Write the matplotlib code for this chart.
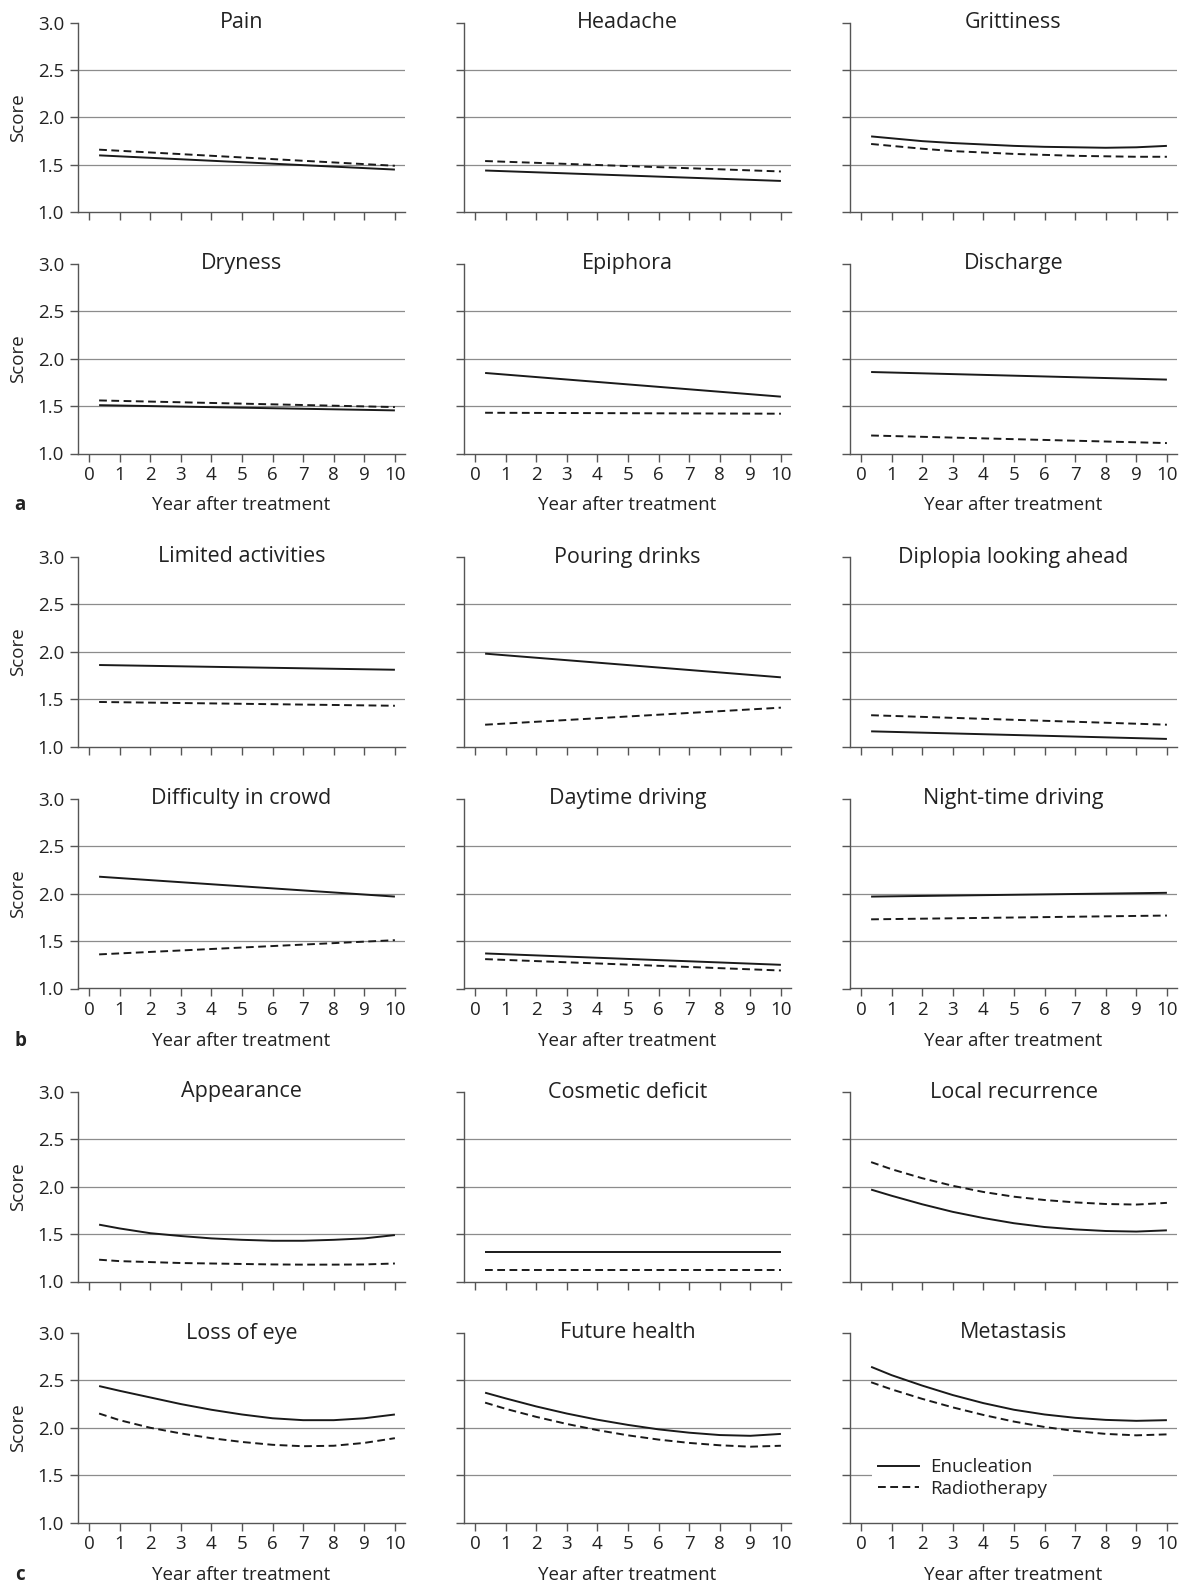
import matplotlib
matplotlib.use("Agg")
import matplotlib.pyplot as plt
from matplotlib.lines import Line2D

plt.rcParams['font.family'] = ['Open Sans', 'DejaVu Sans']

# ---------------- data ----------------
YEARS_LINE = [0.33, 10.0]
YEARS_CURVE = [0.33, 1, 2, 3, 4, 5, 6, 7, 8, 9, 10]
X_TICKS = list(range(0, 11))
Y_TICKS = [1.0, 1.5, 2.0, 2.5, 3.0]

TITLES = ["Pain", "Headache", "Grittiness",
          "Dryness", "Epiphora", "Discharge",
          "Limited activities", "Pouring drinks", "Diplopia looking ahead",
          "Difficulty in crowd", "Daytime driving", "Night-time driving",
          "Appearance", "Cosmetic deficit", "Local recurrence",
          "Loss of eye", "Future health", "Metastasis"]

pain_enu = [1.60, 1.45]
pain_rad = [1.66, 1.49]
headache_enu = [1.44, 1.33]
headache_rad = [1.54, 1.43]
grit_enu = [1.80, 1.78, 1.75, 1.73, 1.715, 1.70, 1.69, 1.685, 1.68, 1.685, 1.70]
grit_rad = [1.72, 1.70, 1.67, 1.645, 1.63, 1.615, 1.605, 1.595, 1.59, 1.585, 1.585]

dry_enu = [1.51, 1.455]
dry_rad = [1.56, 1.49]
epi_enu = [1.85, 1.60]
epi_rad = [1.43, 1.42]
dis_enu = [1.86, 1.78]
dis_rad = [1.19, 1.11]

lim_enu = [1.86, 1.81]
lim_rad = [1.47, 1.43]
pour_enu = [1.98, 1.73]
pour_rad = [1.23, 1.41]
dip_enu = [1.16, 1.08]
dip_rad = [1.33, 1.23]

crowd_enu = [2.18, 1.97]
crowd_rad = [1.36, 1.51]
day_enu = [1.37, 1.25]
day_rad = [1.31, 1.19]
night_enu = [1.97, 2.01]
night_rad = [1.73, 1.77]

app_enu = [1.60, 1.56, 1.51, 1.48, 1.455, 1.44, 1.43, 1.43, 1.44, 1.455, 1.49]
app_rad = [1.23, 1.215, 1.205, 1.195, 1.19, 1.185, 1.18, 1.178, 1.178, 1.18, 1.19]
cos_enu = [1.31, 1.31]
cos_rad = [1.12, 1.12]
loc_enu = [1.97, 1.905, 1.815, 1.735, 1.67, 1.615, 1.575, 1.55, 1.533, 1.527, 1.54]
loc_rad = [2.26, 2.185, 2.09, 2.01, 1.945, 1.895, 1.86, 1.835, 1.818, 1.812, 1.83]

loss_enu = [2.44, 2.39, 2.32, 2.25, 2.19, 2.14, 2.10, 2.08, 2.08, 2.10, 2.14]
loss_rad = [2.15, 2.08, 2.00, 1.94, 1.89, 1.85, 1.82, 1.805, 1.81, 1.84, 1.89]
fut_enu = [2.37, 2.31, 2.225, 2.15, 2.085, 2.03, 1.983, 1.948, 1.923, 1.915, 1.935]
fut_rad = [2.265, 2.20, 2.115, 2.04, 1.975, 1.92, 1.875, 1.84, 1.815, 1.80, 1.81]
met_enu = [2.643, 2.555, 2.445, 2.345, 2.26, 2.19, 2.14, 2.105, 2.083, 2.073, 2.08]
met_rad = [2.48, 2.405, 2.305, 2.215, 2.135, 2.065, 2.008, 1.965, 1.935, 1.92, 1.93]

ENUCLEATION = [pain_enu, headache_enu, grit_enu, dry_enu, epi_enu, dis_enu,
               lim_enu, pour_enu, dip_enu, crowd_enu, day_enu, night_enu,
               app_enu, cos_enu, loc_enu, loss_enu, fut_enu, met_enu]
RADIOTHERAPY = [pain_rad, headache_rad, grit_rad, dry_rad, epi_rad, dis_rad,
                lim_rad, pour_rad, dip_rad, crowd_rad, day_rad, night_rad,
                app_rad, cos_rad, loc_rad, loss_rad, fut_rad, met_rad]

SERIES_LABELS = ["Enucleation", "Radiotherapy"]
PANEL_LETTERS = ["a", "b", "c"]

# ---------------- layout / style ----------------
W, H = 1187, 1587
fig = plt.figure(figsize=(W / 100, H / 100), dpi=100)

COL_LEFT = [78, 464, 850]
ROW_TOP = [22.7, 264, 557, 799, 1092, 1333]
AW, AH = 327, 189.5

TXT = '#222222'
AXC = '#555555'
GRID = '#8c8c8c'
LINEC = '#1a1a1a'
FS = 13.5
FS_TITLE = 15.5
DASH = (0, (4, 2.3))

for i, title in enumerate(TITLES):
    r, c = divmod(i, 3)
    L, T = COL_LEFT[c], ROW_TOP[r]
    ax = fig.add_axes([L / W, 1 - (T + AH) / H, AW / W, AH / H])
    ax.set_xlim(-0.36, 10.33)
    ax.set_ylim(1.0, 3.0)
    for s in ['top', 'right']:
        ax.spines[s].set_visible(False)
    for s in ['left', 'bottom']:
        ax.spines[s].set_color(AXC)
        ax.spines[s].set_linewidth(1.0)
    ax.set_xticks(X_TICKS)
    ax.set_yticks(Y_TICKS)
    ax.tick_params(axis='both', direction='out', length=6, width=1.0,
                   color=AXC, labelcolor=TXT, labelsize=FS)
    ax.tick_params(axis='y', pad=4)
    ax.tick_params(axis='x', pad=3)
    if c == 0:
        ax.set_yticklabels([f"{v:.1f}" for v in Y_TICKS])
        fig.text(18 / W, 1 - (T + AH / 2) / H, "Score", rotation=90,
                 ha='center', va='center', fontsize=FS, color=TXT)
    else:
        ax.set_yticklabels([])
    if r % 2 == 1:
        ax.set_xticklabels([str(v) for v in X_TICKS])
        ax.set_xlabel("Year after treatment", fontsize=FS, color=TXT)
        ax.xaxis.set_label_coords(0.5, -52 / AH)
        ax.xaxis.label.set_va('center')
    else:
        ax.set_xticklabels([])
    for g in [1.5, 2.0, 2.5]:
        ax.axhline(g, color=GRID, lw=0.9, zorder=0)

    enu = ENUCLEATION[i]
    rad = RADIOTHERAPY[i]
    x_e = YEARS_LINE if len(enu) == 2 else YEARS_CURVE
    x_r = YEARS_LINE if len(rad) == 2 else YEARS_CURVE
    ax.plot(x_e, enu, color=LINEC, lw=1.4, solid_capstyle='butt',
            solid_joinstyle='round', zorder=3)
    ax.plot(x_r, rad, color=LINEC, lw=1.4, ls=DASH, zorder=3)

    ax.text(0.5, 1.0, title, transform=ax.transAxes, ha='center', va='center',
            fontsize=FS_TITLE, color=TXT)

    if i == len(TITLES) - 1:
        handles = [Line2D([], [], color=LINEC, lw=1.4),
                   Line2D([], [], color=LINEC, lw=1.4, ls=DASH)]
        leg = ax.legend(handles, SERIES_LABELS, loc='center left',
                        bbox_to_anchor=(0.04, 0.235), frameon=True,
                        facecolor='white', edgecolor='none', framealpha=1,
                        fontsize=FS, handlelength=2.2, handletextpad=0.6,
                        labelspacing=0.2, borderpad=0.3, fancybox=False)
        for t in leg.get_texts():
            t.set_color(TXT)

for k, letter in enumerate(PANEL_LETTERS):
    bottom = ROW_TOP[2 * k + 1] + AH
    fig.text(20 / W, 1 - (bottom + 52) / H, letter, ha='center', va='center',
             fontsize=FS, fontweight='bold', color=TXT)

fig.savefig("out.png", dpi=100)
